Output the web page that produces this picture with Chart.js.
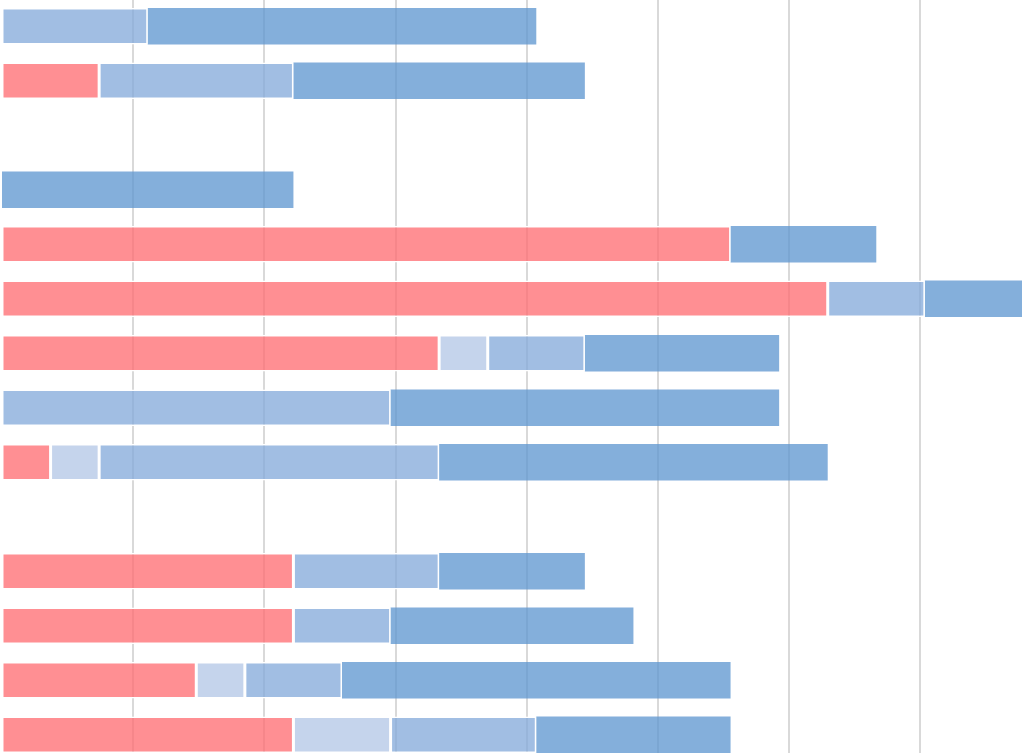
<!DOCTYPE html>
<html>
<head>
<meta charset="utf-8">
<script src="https://cdn.jsdelivr.net/npm/chart.js@4.4.1/dist/chart.umd.min.js"></script>
<style>
  html, body { margin: 0; padding: 0; background: #fff; overflow: hidden; }
  #wrap { position: absolute; left: 0; top: -1px; width: 1023px; height: 763px; }
</style>
</head>
<body>
<div id="wrap"><canvas id="barChart"></canvas></div>
<script>
// rows top to bottom, two of them empty
const categories = ['1', '2', '', '3', '4', '5', '6', '7', '8', '', '9', '10', '11', '12'];

const redValues    = [0, 2, 0, 0, 15, 17, 9, 0, 1, 0, 6, 6, 4, 6];
const lightValues  = [0, 0, 0, 0, 0, 0, 1, 0, 1, 0, 0, 0, 1, 2];
const mediumValues = [3, 4, 0, 0, 0, 2, 2, 8, 7, 0, 3, 2, 2, 3];
const darkValues   = [8, 6, 0, 6, 3, 2, 4, 8, 8, 0, 3, 5, 8, 4];

const xMax = 21;
// vertical guide lines (own scale)
const gridTicks = [1, 2, 3, 4, 5, 6, 7];
const gridMax = 7.776;

function segment(label, values, color, border) {
    return {
        label: label,
        data: values,
        backgroundColor: color,
        borderColor: '#ffffff',
        borderWidth: border,
        borderSkipped: false
    };
}

const ctx = document.getElementById('barChart').getContext('2d');
const chart = new Chart(ctx, {
    type: 'bar',
    data: {
        labels: categories,
        datasets: [
            segment('red', redValues, 'rgba(255, 106, 111, 0.75)', 1.5),
            segment('light', lightValues, 'rgba(178, 198, 230, 0.75)', 1.5),
            segment('medium', mediumValues, 'rgba(130, 168, 218, 0.75)', 1.5),
            segment('dark', darkValues, 'rgba(91, 148, 207, 0.75)', 0)
        ]
    },
    options: {
        indexAxis: 'y',
        responsive: true,
        maintainAspectRatio: false,
        animation: false,
        layout: { padding: { left: 2, right: 1, top: 0, bottom: 0 } },
        datasets: {
            bar: { categoryPercentage: 0.67, barPercentage: 1 }
        },
        plugins: {
            legend: { display: false },
            tooltip: { enabled: false }
        },
        scales: {
            x: {
                stacked: true,
                min: 0,
                max: xMax,
                display: false
            },
            x2: {
                type: 'linear',
                position: 'bottom',
                min: 0,
                max: gridMax,
                afterBuildTicks: axis => {
                    axis.ticks = gridTicks.map(v => ({ value: v }));
                },
                ticks: { display: false },
                border: { display: false },
                grid: {
                    color: 'rgba(0, 0, 0, 0.15)',
                    lineWidth: 2,
                    drawTicks: false
                }
            },
            y: {
                stacked: true,
                display: false
            }
        }
    }
});
</script>
</body>
</html>
